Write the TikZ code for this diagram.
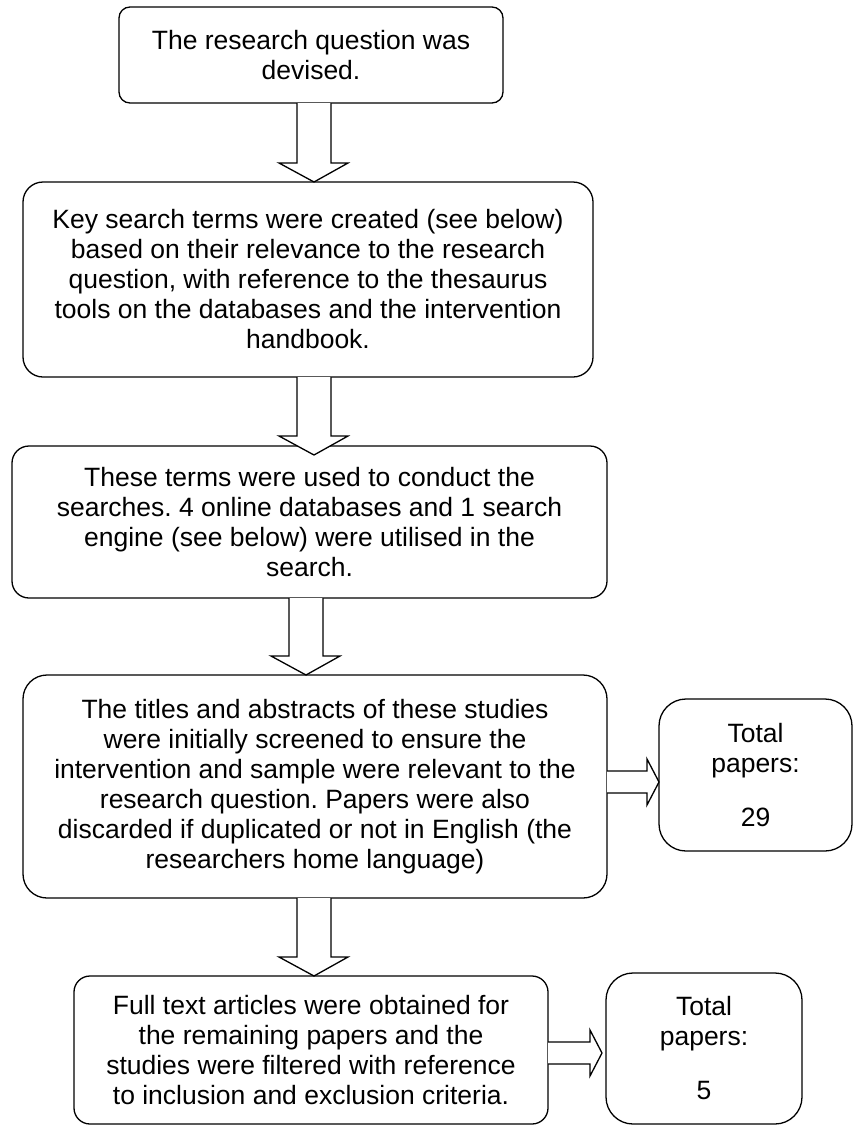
\documentclass[tikz,border=0pt]{standalone}
\usepackage{fontspec}
\setmainfont{Liberation Sans}
\usetikzlibrary{calc}
\frenchspacing

% Hollow block arrow pointing down from #1 to #2; shaft between x=#3 and x=#4,
% tip pushed #5 units into the target box.
\newcommand\downblock[5]{%
  \draw[blockarrow] (#3,0 |- #1.south)
    -- ($(#3,0 |- #2.north)+(0,#5-19)$)
    -- ($(#3-18,0 |- #2.north)+(0,#5-19)$)
    -- ($({(#3+#4)/2},0 |- #2.north)+(0,#5)$)
    -- ($(#4+17,0 |- #2.north)+(0,#5-19)$)
    -- ($(#4,0 |- #2.north)+(0,#5-19)$)
    -- (#4,0 |- #1.south);}

% Hollow block arrow pointing right from #1 to #2; shaft between y=#3 and y=#4,
% tip stopping #5 units short of the target box.
\newcommand\rightblock[5]{%
  \draw[blockarrow] (#1.east |- 0,#3)
    -- ($(#2.west |- 0,#3)+(-#5-12,0)$)
    -- ($(#2.west |- 0,#3-12)+(-#5-12,0)$)
    -- ($(#2.west |- 0,{(#3+#4)/2})+(-#5,0)$)
    -- ($(#2.west |- 0,#4+12)+(-#5-12,0)$)
    -- ($(#2.west |- 0,#4)+(-#5-12,0)$)
    -- (#1.east |- 0,#4);}

\begin{document}
\begin{tikzpicture}[x=1pt,y=-1pt,
  box/.style={draw, line width=1.3pt, rounded corners=#1, align=center,
    inner sep=0pt, outer sep=0pt, font=\fontsize{26.5}{30}\selectfont},
  box/.default=16pt,
  blockarrow/.style={draw, fill=white, line width=1.3pt, line join=miter}]

\useasboundingbox (0,0) rectangle (853,1125);

% process steps
\node[box=11pt, minimum width=384pt, minimum height=96pt] (b1) at (311,55)
  {The research question was\\devised.};
\node[box=20pt, minimum width=570pt, minimum height=195pt] (b2) at (308,279.5)
  {Key search terms were created (see below)\\based on their relevance to the research\\question, with reference to the thesaurus\\tools on the databases and the intervention\\handbook.};
\node[box=17pt, minimum width=595pt, minimum height=152pt] (b3) at (309.5,522)
  {These terms were used to conduct the\\searches. 4 online databases and 1 search\\engine (see below) were utilised in the\\search.};
\node[box=24pt, minimum width=584pt, minimum height=223pt] (b4) at (315,786.5)
  {The titles and abstracts of these studies\\were initially screened to ensure the\\intervention and sample were relevant to the\\research question. Papers were also\\discarded if duplicated or not in English (the\\researchers home language)};
\node[box=16pt, minimum width=474pt, minimum height=148pt] (b5) at (311,1050)
  {Full text articles were obtained for\\the remaining papers and the\\studies were filtered with reference\\to inclusion and exclusion criteria.};

% paper counts
\node[box=27pt, minimum width=193pt, minimum height=152pt] (t1) at (755.5,775)
  {Total\\papers:\\[24pt]29};
\node[box=27pt, minimum width=196pt, minimum height=151pt] (t2) at (704,1048.5)
  {Total\\papers:\\[24pt]5};

% flow between steps
\downblock{b1}{b2}{297}{331}{0}
\downblock{b2}{b3}{297}{331}{9}
\downblock{b3}{b4}{289}{323}{0}
\downblock{b4}{b5}{297}{331}{0}

% steps to their counts
\rightblock{b4}{t1}{771}{793}{0}
\rightblock{b5}{t2}{1042}{1064}{4}

\end{tikzpicture}
\end{document}
